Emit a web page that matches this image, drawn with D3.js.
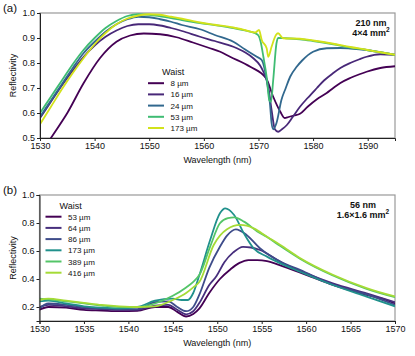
<!DOCTYPE html>
<html lang="en">
<head>
<meta charset="UTF-8">
<title>Reflectivity vs wavelength</title>
<style>
  body { margin: 0; background: #fff; }
  svg { font-family: "Liberation Sans", Arial, sans-serif; }
  .tick text { font-size: 9px; fill: #111; }
  .axis path, .axis line { stroke: #222; }
  .lbl { font-size: 9px; fill: #111; }
</style>
</head>
<body>
<div id="chart"></div>
<script src="https://d3js.org/d3.v7.min.js"></script>
<script>
// ---- panel (a): 210 nm, 4x4 mm2 ----
const aLabels = ["8 µm", "16 µm", "24 µm", "53 µm", "173 µm"];
const aColors = ["#440154", "#482878", "#31688e", "#3fbc73", "#d2e21b"];
const aXTicks = [1530, 1540, 1550, 1560, 1570, 1580, 1590];
const aYTicks = [0.5, 0.6, 0.7, 0.8, 0.9, 1.0];

const a8 = [[1530,0.43],[1532,0.5],[1535,0.6],[1538,0.72],[1541,0.82],[1544,0.885],[1546.5,0.91],[1549,0.918],[1552,0.915],[1555,0.903],[1558,0.882],[1561,0.86],[1563,0.845],[1564.8,0.825],[1568.5,0.785],[1571.4,0.739],[1572.7,0.665],[1574,0.605],[1574.8,0.58],[1575.5,0.584],[1576.5,0.59],[1577.6,0.597],[1579,0.625],[1580.7,0.655],[1582.5,0.68],[1583.7,0.7],[1585,0.72],[1586.8,0.74],[1588.5,0.755],[1589.8,0.765],[1592.3,0.78],[1595,0.787]];
const a16 = [[1530,0.58],[1532,0.645],[1534,0.71],[1536,0.77],[1538,0.825],[1540,0.87],[1542,0.905],[1544,0.93],[1546,0.948],[1548,0.955],[1550,0.955],[1552,0.95],[1554,0.94],[1556,0.928],[1559.3,0.905],[1562,0.888],[1565.4,0.865],[1567.5,0.843],[1569,0.82],[1570.3,0.79],[1570.9,0.765],[1571.8,0.705],[1572.4,0.612],[1573,0.535],[1573.6,0.525],[1574.3,0.535],[1575.2,0.552],[1576.3,0.585],[1577.6,0.625],[1579,0.66],[1580.7,0.7],[1582,0.73],[1583.7,0.76],[1585,0.78],[1586.8,0.8],[1588.5,0.815],[1589.8,0.825],[1592.3,0.835],[1595,0.833]];
const a24 = [[1530,0.585],[1532,0.65],[1534,0.715],[1536,0.78],[1538,0.84],[1540,0.885],[1542,0.925],[1544,0.955],[1546,0.975],[1548,0.985],[1550,0.983],[1552,0.975],[1554,0.965],[1556,0.952],[1559.3,0.935],[1562,0.912],[1565.4,0.885],[1567.5,0.855],[1569.7,0.825],[1570.6,0.812],[1571.5,0.732],[1572.1,0.639],[1572.4,0.56],[1572.7,0.535],[1573.3,0.56],[1574.2,0.652],[1575,0.7],[1575.8,0.745],[1577,0.785],[1578,0.81],[1580,0.845],[1582.5,0.859],[1585,0.86],[1586.8,0.858],[1589.8,0.852],[1592.3,0.843],[1595,0.832]];
const a53 = [[1530,0.6],[1532,0.665],[1534,0.73],[1536,0.795],[1538,0.853],[1540,0.9],[1542,0.94],[1544,0.968],[1546,0.988],[1548,0.995],[1550,0.993],[1552,0.987],[1554,0.98],[1556,0.972],[1559.3,0.96],[1562,0.952],[1565.4,0.94],[1567.5,0.93],[1569.4,0.919],[1570,0.91],[1570.4,0.885],[1570.9,0.825],[1571.5,0.745],[1572,0.65],[1572.3,0.645],[1572.7,0.732],[1573.3,0.879],[1573.6,0.9],[1575,0.899],[1577.6,0.895],[1580,0.888],[1583.7,0.875],[1586.8,0.862],[1589.8,0.852],[1592.3,0.843],[1595,0.832]];
const a173 = [[1530,0.555],[1532,0.625],[1534,0.695],[1536,0.76],[1538,0.82],[1540,0.875],[1542,0.92],[1544,0.955],[1546,0.978],[1548,0.99],[1550,0.995],[1552,0.993],[1554,0.985],[1556,0.977],[1559.3,0.962],[1562,0.953],[1565.4,0.942],[1567.5,0.932],[1569.4,0.922],[1570.1,0.932],[1570.6,0.892],[1571.5,0.859],[1571.8,0.825],[1572.4,0.865],[1573.2,0.912],[1573.6,0.919],[1574.5,0.899],[1577.6,0.897],[1580,0.89],[1583.7,0.877],[1586.8,0.864],[1589.8,0.853],[1592.3,0.843],[1595,0.833]];

// ---- panel (b): 56 nm, 1.6x1.6 mm2 ----
const bLabels = ["53 µm", "64 µm", "86 µm", "173 µm", "389 µm", "416 µm"];
const bColors = ["#440154", "#472f7d", "#3e4c8a", "#21918c", "#54c568", "#a5db36"];
const bXTicks = [1530, 1535, 1540, 1545, 1550, 1555, 1560, 1565, 1570];
const bYTicks = [0.2, 0.4, 0.6, 0.8, 1.0];

const b53 = [[1530,0.18],[1531,0.2],[1533,0.195],[1535,0.18],[1537,0.175],[1539,0.17],[1541,0.172],[1543,0.2],[1544.5,0.2],[1545.5,0.165],[1546.5,0.132],[1547.3,0.15],[1548,0.19],[1549.1,0.3],[1550.3,0.4],[1551.5,0.47],[1552.5,0.515],[1553.5,0.535],[1554.5,0.535],[1555.6,0.528],[1557.4,0.49],[1560,0.43],[1563,0.357],[1566.8,0.286],[1569,0.25],[1570,0.225]];
const b64 = [[1530,0.2],[1531,0.215],[1533,0.205],[1535,0.19],[1537,0.185],[1539,0.18],[1541,0.18],[1543,0.21],[1544.5,0.215],[1545.5,0.18],[1546.5,0.148],[1547.3,0.17],[1548,0.23],[1549.1,0.357],[1549.9,0.42],[1550.8,0.52],[1551.8,0.59],[1552.9,0.63],[1553.8,0.625],[1554.8,0.607],[1557.4,0.512],[1560,0.44],[1563,0.369],[1566.8,0.298],[1570,0.235]];
const b86 = [[1530,0.19],[1531,0.225],[1533,0.215],[1535,0.2],[1537,0.19],[1539,0.185],[1541,0.185],[1543,0.235],[1544.5,0.24],[1545.5,0.2],[1546.5,0.17],[1547.3,0.2],[1548,0.29],[1549.1,0.48],[1550.3,0.63],[1551.1,0.71],[1552.1,0.755],[1553.3,0.715],[1554.8,0.62],[1557.1,0.524],[1559.3,0.465],[1563,0.36],[1566.8,0.29],[1570,0.215]];
const b173 = [[1530,0.24],[1531,0.245],[1533,0.225],[1535,0.205],[1537,0.195],[1539,0.19],[1541,0.2],[1543,0.245],[1545,0.26],[1546,0.25],[1546.7,0.25],[1547.3,0.3],[1548,0.43],[1549.2,0.678],[1550.3,0.869],[1550.9,0.905],[1551.9,0.857],[1553,0.726],[1554.1,0.619],[1555.6,0.56],[1557.1,0.512],[1559.3,0.452],[1563,0.357],[1566.8,0.274],[1570,0.205]];
const b389 = [[1530,0.26],[1531,0.255],[1533,0.24],[1535,0.226],[1537,0.21],[1539,0.2],[1541,0.2],[1543,0.225],[1545,0.28],[1546.5,0.34],[1547.3,0.38],[1548,0.43],[1549.2,0.631],[1550.3,0.798],[1551.2,0.835],[1551.9,0.84],[1553,0.81],[1554.5,0.74],[1555.6,0.7],[1557.1,0.635],[1559.3,0.545],[1563,0.425],[1566.8,0.33],[1570,0.27]];
const b416 = [[1530,0.25],[1531,0.26],[1533,0.245],[1535,0.23],[1537,0.215],[1539,0.205],[1541,0.2],[1543,0.205],[1545,0.25],[1546.5,0.3],[1547.3,0.34],[1548,0.38],[1549.6,0.643],[1551.1,0.755],[1552.6,0.786],[1554.1,0.762],[1555.6,0.702],[1557.1,0.643],[1559.3,0.55],[1563,0.43],[1566.8,0.335],[1570,0.275]];

const width = 415, height = 356;
const svg = d3.select("#chart").append("svg")
  .attr("width", width).attr("height", height);

function panel(cfg) {
  const x = d3.scaleLinear().domain(cfg.xDomain).range([cfg.left, cfg.right]);
  const y = d3.scaleLinear().domain(cfg.yDomain).range([cfg.bottom, cfg.top]);
  const g = svg.append("g");

  g.append("clipPath").attr("id", cfg.id)
    .append("rect")
    .attr("x", cfg.left).attr("y", cfg.top)
    .attr("width", cfg.right - cfg.left).attr("height", cfg.bottom - cfg.top);

  // light frame on top / right
  g.append("rect")
    .attr("x", cfg.left).attr("y", cfg.top)
    .attr("width", cfg.right - cfg.left).attr("height", cfg.bottom - cfg.top)
    .attr("fill", "none").attr("stroke", "#999").attr("stroke-width", 1.2);

  const line = d3.line()
    .x(d => x(d[0])).y(d => y(d[1]))
    .curve(d3.curveMonotoneX);

  g.append("g").attr("clip-path", `url(#${cfg.id})`)
    .selectAll("path")
    .data(cfg.series)
    .join("path")
    .attr("d", d => line(d))
    .attr("fill", "none")
    .attr("stroke", (d, i) => cfg.colors[i])
    .attr("stroke-width", 1.8)
    .attr("stroke-linejoin", "round");

  g.append("g").attr("class", "axis")
    .attr("transform", `translate(0,${cfg.bottom})`)
    .call(d3.axisBottom(x).tickValues(cfg.xTicks).tickSize(3).tickPadding(2).tickFormat(d3.format("d")));

  g.append("g").attr("class", "axis")
    .attr("transform", `translate(${cfg.left},0)`)
    .call(d3.axisLeft(y).tickValues(cfg.yTicks).tickSize(3).tickPadding(2).tickFormat(d3.format(".1f")));

  g.append("text").attr("class", "lbl")
    .attr("x", (cfg.left + cfg.right) / 2).attr("y", cfg.bottom + 25)
    .attr("text-anchor", "middle").text("Wavelength (nm)");

  g.append("text").attr("class", "lbl")
    .attr("transform", `translate(16,${(cfg.top + cfg.bottom) / 2}) rotate(-90)`)
    .attr("text-anchor", "middle").text("Reflectivity");

  g.append("text")
    .attr("x", 3).attr("y", cfg.top - 1)
    .attr("font-size", 11.5).attr("fill", "#111").text(cfg.tag);

  // sample annotation
  const ann = g.append("g").attr("font-size", 9).attr("font-weight", "bold").attr("fill", "#111");
  ann.append("text").attr("x", cfg.annX).attr("y", cfg.top + 13)
    .attr("text-anchor", "middle").text(cfg.ann1);
  const t2 = ann.append("text").attr("x", cfg.annX).attr("y", cfg.top + 22.5)
    .attr("text-anchor", "middle");
  t2.append("tspan").text(cfg.ann2);
  t2.append("tspan").attr("dy", -3.5).attr("font-size", 6.5).text("2");

  // legend
  const lg = g.append("g");
  lg.append("text").attr("x", cfg.legX + 14).attr("y", cfg.legY)
    .attr("font-size", 9).attr("fill", "#111").text("Waist");
  const items = lg.selectAll("g.item")
    .data(cfg.labels)
    .join("g").attr("class", "item")
    .attr("transform", (d, i) => `translate(${cfg.legX},${cfg.legY + 11.2 * (i + 1)})`);
  items.append("line")
    .attr("x1", 0).attr("x2", 16).attr("y1", -3).attr("y2", -3)
    .attr("stroke", (d, i) => cfg.colors[i]).attr("stroke-width", 2);
  items.append("text").attr("x", 22.5).attr("y", 0)
    .attr("font-size", 8).attr("fill", "#111").text(d => d);
}

panel({
  id: "clipA", tag: "(a)",
  left: 40, right: 395, top: 13, bottom: 138,
  xDomain: [1530, 1595], yDomain: [0.5, 1.0],
  xTicks: aXTicks, yTicks: aYTicks,
  series: [a8, a16, a24, a53, a173], colors: aColors, labels: aLabels,
  annX: 371, ann1: "210 nm", ann2: "4×4 mm",
  legX: 148, legY: 75
});

panel({
  id: "clipB", tag: "(b)",
  left: 39.5, right: 395, top: 195, bottom: 321,
  xDomain: [1530, 1570], yDomain: [0.1, 1.0],
  xTicks: bXTicks, yTicks: bYTicks,
  series: [b53, b64, b86, b173, b389, b416], colors: bColors, labels: bLabels,
  annX: 363, ann1: "56 nm", ann2: "1.6×1.6 mm",
  legX: 45.5, legY: 208.5
});
</script>
</body>
</html>
